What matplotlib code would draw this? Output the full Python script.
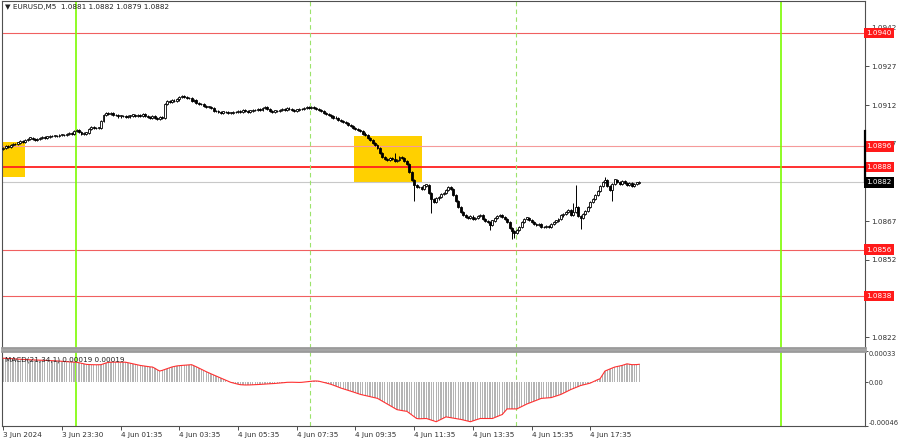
import numpy as np
import matplotlib.pyplot as plt
from matplotlib.patches import Rectangle
from matplotlib.transforms import blended_transform_factory

# EURUSD M5 closes, in pips above 1.0800
close_pips = [
    95.4, 96.0, 95.8, 96.6, 97.0, 96.8, 97.5, 98.0, 97.8, 98.4,
    98.9, 99.4, 99.0, 98.6, 98.8, 99.2, 99.5, 99.4, 99.8, 99.9,
    100.0, 100.2, 100.1, 100.4, 100.6, 100.5, 100.9, 101.1, 101.0, 101.8,
    102.3, 101.6, 100.9, 101.0, 101.3, 102.6, 103.4, 103.2, 103.0, 103.3,
    105.8, 108.2, 109.0, 108.6, 108.9, 108.1, 108.0, 107.6, 107.9, 107.7,
    107.5, 107.6, 107.9, 108.3, 107.8, 108.0, 107.9, 108.4, 107.8, 107.5,
    107.2, 107.6, 107.0, 106.8, 107.3, 107.2, 112.5, 113.6, 113.2, 113.8,
    113.5, 114.2, 115.0, 115.6, 115.2, 114.6, 114.8, 113.6, 113.9, 112.8,
    112.5, 112.3, 111.6, 111.2, 111.4, 111.0, 109.6, 109.8, 109.4, 109.0,
    109.5, 109.3, 108.8, 109.1, 109.4, 109.2, 109.6, 109.5, 110.0, 109.7,
    109.4, 109.9, 110.2, 110.0, 110.5, 110.3, 110.8, 111.1, 110.4, 109.7,
    109.5, 109.9, 109.6, 110.2, 110.5, 110.3, 110.7, 110.4, 110.1, 109.8,
    110.3, 110.6, 110.4, 110.9, 111.3, 111.0, 111.2, 110.8, 110.5, 110.0,
    109.6, 109.0, 108.6, 108.1, 107.6, 107.2, 106.9, 106.3, 105.9, 105.5,
    105.0, 104.3, 103.9, 103.2, 102.8, 102.5, 101.9, 101.0, 100.3, 99.4,
    98.6, 97.4, 96.5, 95.2, 93.4, 92.0, 91.2, 90.8, 91.5, 91.0,
    90.2, 90.6, 91.8, 91.5, 90.2, 89.0, 86.0, 83.0, 81.0, 80.4,
    80.2, 79.6, 80.8, 81.2, 78.0, 75.6, 74.6, 75.8, 76.4, 77.5,
    77.9, 79.0, 80.2, 79.4, 77.3, 74.8, 72.5, 70.6, 69.4, 68.6,
    68.2, 68.8, 67.7, 68.1, 68.9, 69.3, 68.0, 67.0, 66.7, 65.4,
    67.2, 68.1, 69.0, 69.4, 68.5, 68.0, 66.5, 64.5, 63.2, 62.4,
    63.4, 64.8, 66.5, 67.8, 68.4, 67.6, 66.8, 66.0, 65.5, 65.8,
    64.8, 64.6, 65.0, 64.7, 65.9, 66.7, 67.2, 67.9, 69.2, 69.6,
    70.6, 71.2, 69.5, 70.5, 72.5, 69.0, 68.2, 69.8, 71.0, 72.4,
    74.3, 75.5, 77.0, 78.6, 80.6, 82.2, 83.0, 80.5, 79.2, 81.4,
    83.1, 82.3, 81.6, 82.5, 81.7, 81.2, 81.8, 80.8, 81.5, 81.9,
    82.0,
]
first_open = 95.0
# notable wicks (bar index: pips)
spike_hi = {160: 93.5, 234: 81.0, 233: 74.0, 246: 84.0}
spike_lo = {168: 75.0, 175: 70.0, 208: 60.0, 209: 60.5, 236: 64.0, 249: 75.0, 199: 63.5}

# MACD(21,34,1) histogram, in 1e-5
macd_e5 = [
    25.4, 25.3, 25.1, 25.0, 24.8, 24.6, 24.4, 24.2, 24.1, 24.0,
    23.9, 23.8, 23.6, 23.5, 23.4, 23.3, 23.2, 23.1, 23.0, 22.9,
    22.9, 22.7, 22.5, 22.4, 22.2, 22.0, 21.8, 21.6, 21.4, 21.3,
    21.2, 20.6, 20.0, 19.4, 18.9, 18.7, 18.6, 18.5, 18.5, 18.6,
    18.6, 19.5, 20.4, 21.0, 21.2, 21.3, 21.3, 21.2, 21.2, 21.2,
    21.2, 20.7, 20.1, 19.5, 18.9, 18.4, 17.8, 17.4, 17.0, 16.6,
    16.3, 16.1, 14.8, 13.2, 11.9, 12.6, 13.5, 14.4, 15.4, 16.2,
    16.8, 17.3, 17.6, 17.8, 18.0, 18.3, 18.5, 18.6, 17.5, 16.3,
    15.0, 13.6, 12.4, 11.2, 10.0, 8.9, 7.8, 6.8, 5.6, 4.5,
    3.4, 2.2, 1.1, 0.0, -0.7, -1.4, -2.0, -2.5, -2.7, -2.8,
    -2.8, -2.7, -2.6, -2.5, -2.3, -2.2, -2.0, -1.9, -1.7, -1.5,
    -1.4, -1.2, -1.0, -0.8, -0.6, -0.3, 0.0, 0.1, 0.1, 0.0,
    0.0, -0.1, 0.0, 0.3, 0.6, 0.9, 1.2, 1.4, 1.4, 1.2,
    0.6, 0.0, -0.7, -1.4, -2.1, -3.0, -4.0, -5.0, -6.0, -6.8,
    -7.6, -8.4, -9.3, -10.1, -11.0, -11.9, -12.7, -13.3, -13.9, -14.5,
    -15.1, -15.7, -16.3, -16.9, -18.4, -19.9, -21.4, -22.9, -24.4, -25.9,
    -27.3, -28.8, -29.3, -29.8, -30.2, -30.5, -32.4, -34.3, -36.2, -38.1,
    -38.4, -38.3, -38.1, -38.1, -38.9, -39.8, -40.6, -41.5, -40.2, -38.9,
    -37.6, -36.4, -36.8, -37.3, -37.7, -38.2, -38.6, -39.0, -39.6, -40.3,
    -40.9, -41.5, -40.6, -39.8, -38.9, -38.1, -38.1, -38.1, -38.1, -38.1,
    -38.1, -37.0, -36.0, -34.9, -33.9, -30.9, -28.0, -28.0, -28.0, -28.0,
    -28.0, -26.7, -25.5, -24.2, -22.9, -21.9, -20.9, -19.9, -18.9, -17.9,
    -16.9, -16.7, -16.5, -16.3, -16.1, -15.3, -14.5, -13.6, -12.7, -11.5,
    -10.2, -8.9, -7.6, -6.6, -5.5, -4.5, -3.4, -2.8, -2.1, -1.5,
    -0.8, 0.4, 1.7, 2.8, 3.8, 7.8, 11.9, 13.0, 14.0, 15.1,
    16.1, 16.7, 17.2, 17.8, 18.7, 19.5, 19.1, 18.6, 18.6, 18.7,
    19.0,
]

levels = [1.0940, 1.0896, 1.0888, 1.0856, 1.0838]
level_colors = ["#f06060", "#f59a9a", "#ff2020", "#f06060", "#f06060"]
level_widths = [0.8, 0.8, 1.3, 0.8, 0.8]
last_price = 1.0882
price_ticks = [1.0942, 1.0927, 1.0912, 1.0897, 1.0867, 1.0852, 1.0822]
time_idx = [0, 24, 48, 72, 96, 120, 144, 168, 192, 216, 240]
time_lab = ["3 Jun 2024", "3 Jun 23:30", "4 Jun 01:35", "4 Jun 03:35", "4 Jun 05:35",
            "4 Jun 07:35", "4 Jun 09:35", "4 Jun 11:35", "4 Jun 13:35", "4 Jun 15:35",
            "4 Jun 17:35"]
day_lines = [29.8, 318]
session_lines = [125.5, 209.8]
# yellow boxes: (x0, x1, price0, price1)
boxes = [(-0.5, 9.0, 1.08841, 1.08977), (143.5, 171.3, 1.08822, 1.09000)]

closes = 1.08 + np.array(close_pips) / 1e4
opens = np.concatenate([[1.08 + first_open / 1e4], closes[:-1]])
highs = np.maximum(opens, closes) + 0.00004
lows = np.minimum(opens, closes) - 0.00004
for k, v in spike_hi.items():
    highs[k] = max(highs[k], 1.08 + v / 1e4)
for k, v in spike_lo.items():
    lows[k] = min(lows[k], 1.08 + v / 1e4)
macd = np.array(macd_e5) / 1e5
idx = np.arange(len(closes))

W, H = 900, 441
fig = plt.figure(figsize=(9, 4.41), dpi=100)
ax = fig.add_axes([2 / W, 1 - 348 / H, 863 / W, 347 / H])
ax2 = fig.add_axes([2 / W, 1 - 426 / H, 863 / W, 75 / H])

XL = (-0.5, 352.3)
for a in (ax, ax2):
    a.set_xlim(*XL)
    for s in a.spines.values():
        s.set_color("#505050")
        s.set_linewidth(0.8)
    a.yaxis.tick_right()
    a.tick_params(axis="y", length=3, width=0.6, labelsize=5.2, pad=1.2, colors="#303030")
ax.spines["bottom"].set_color("#9a9a9a")
ax.spines["bottom"].set_linewidth(2)
ax2.spines["top"].set_color("#9a9a9a")
ax2.spines["top"].set_linewidth(2)

ax.set_ylim(1.08178, 1.09524)

# boxes
for x0, x1, p0, p1 in boxes:
    ax.add_patch(Rectangle((x0, p0), x1 - x0, p1 - p0, facecolor="#ffd000", edgecolor="none", zorder=1))

# levels
for lv, c, lw in zip(levels, level_colors, level_widths):
    ax.axhline(lv, color=c, lw=lw, zorder=2)
ax.axhline(last_price, color="#c8c8c8", lw=0.8, zorder=1.5)

# vertical lines
for a in (ax, ax2):
    for d in day_lines:
        a.axvline(d, color="#7cfc00", lw=1.2, zorder=2)
    for d in session_lines:
        a.axvline(d, color="#9be36a", lw=0.8, ls=(0, (4, 3)), zorder=2)

# candles
up = closes >= opens
ax.vlines(idx, lows, highs, color="black", lw=0.7, zorder=3)
ax.bar(idx[up], (closes - opens)[up] + 0.00001, bottom=opens[up], width=0.8,
       facecolor="white", edgecolor="black", lw=0.6, zorder=4)
ax.bar(idx[~up], (opens - closes)[~up], bottom=closes[~up], width=0.8,
       facecolor="black", edgecolor="black", lw=0.6, zorder=4)

ax.set_xticks([])
ax.set_yticks(price_ticks)
ax.set_yticklabels([f"{p:.4f}" for p in price_ticks])

tr = blended_transform_factory(ax.transAxes, ax.transData)
for lv in levels:
    ax.text(1.0015, lv, f"{lv:.4f}", transform=tr, ha="left", va="center", fontsize=5.2,
            color="white", clip_on=False, zorder=6,
            bbox=dict(boxstyle="square,pad=0.3", fc="#ff1a1a", ec="none"))
ax.text(1.0015, last_price, f"{last_price:.4f}", transform=tr, ha="left", va="center",
        fontsize=5.2, color="white", clip_on=False, zorder=6,
        bbox=dict(boxstyle="square,pad=0.3", fc="black", ec="none"))
ax.plot([1.0, 1.0], [1.0902, last_price], transform=tr, color="black", lw=1.6,
        clip_on=False, zorder=6)

fig.text(5 / W, 1 - 7 / H, "\u25bc EURUSD,M5  1.0881 1.0882 1.0879 1.0882", fontsize=5.2,
         va="center", ha="left", color="#202020")

# MACD panel
ax2.set_ylim(-0.00046, 0.00033)
ax2.bar(idx, macd, width=0.55, color="#b4b4b4", zorder=2)
ax2.plot(idx, macd, color="#ff3030", lw=0.8, zorder=3)
ax2.set_yticks([0.00033, 0.0, -0.00046])
ax2.set_yticklabels(["0.00033", "0.00", "-0.00046"])
ax2.tick_params(axis="y", labelsize=4.8, length=2, pad=0.8)
tl = ax2.get_yticklabels()
tl[0].set_va("top")
tl[2].set_va("bottom")
ax2.text(0.004, 0.93, "MACD(21,34,1) 0.00019 0.00019", transform=ax2.transAxes,
         fontsize=5.2, va="top", ha="left", color="#202020")

ax2.set_xticks(time_idx)
ax2.set_xticklabels(time_lab, ha="left")
ax2.tick_params(axis="x", length=3, width=0.6, labelsize=5.2, pad=1.5, colors="#303030")

fig.savefig("out.png", dpi=100, facecolor="white")
